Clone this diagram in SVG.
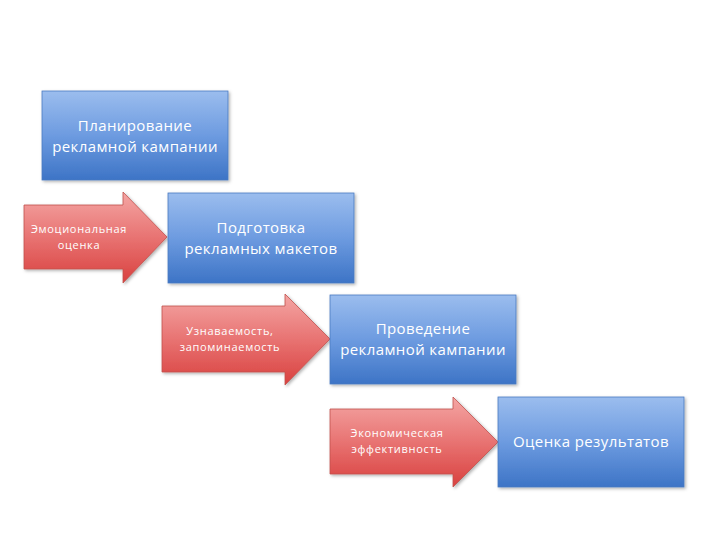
<svg xmlns="http://www.w3.org/2000/svg" width="720" height="540" viewBox="0 0 720 540">
<defs>
<linearGradient id="gb" x1="0" y1="0" x2="0" y2="1">
<stop offset="0" stop-color="#9bbdee"/>
<stop offset="0.5" stop-color="#6d9be0"/>
<stop offset="1" stop-color="#3d74c6"/>
</linearGradient>
<linearGradient id="gr" x1="0" y1="0" x2="0" y2="1">
<stop offset="0" stop-color="#f4a6a4"/>
<stop offset="0.5" stop-color="#e87372"/>
<stop offset="1" stop-color="#d9413f"/>
</linearGradient>
<filter id="sh" x="-10%" y="-10%" width="130%" height="130%">
<feDropShadow dx="1.5" dy="1.5" stdDeviation="1.5" flood-color="#000" flood-opacity="0.3"/>
</filter>
</defs>
<style>
.box{fill:url(#gb);stroke:#4a7bc0;stroke-width:0.8;filter:url(#sh)}
.arr{fill:url(#gr);stroke:#c0504d;stroke-width:0.8;filter:url(#sh)}
.bt{font-family:"Open Sans","Liberation Sans",sans-serif;font-size:15px;letter-spacing:0.4px;fill:#fff;text-anchor:middle}
.at{font-family:"Open Sans","Liberation Sans",sans-serif;font-size:11px;letter-spacing:0.7px;fill:#fff;text-anchor:middle}
</style>
<rect width="720" height="540" fill="#fff"/>
<g id="connectors">
<g id="arrow1">
<polygon class="arr" points="24,205 123,205 123,192 167,237 123,283 123,269 24,269"/>
<text class="at" x="79" y="233">Эмоциональная</text>
<text class="at" x="79" y="249">оценка</text>
</g>
<g id="arrow2">
<polygon class="arr" points="162,306 285,306 285,294 330,339 285,385 285,372 162,372"/>
<text class="at" x="230" y="335">Узнаваемость,</text>
<text class="at" x="230" y="351">запоминаемость</text>
</g>
<g id="arrow3">
<polygon class="arr" points="330,409 453,409 453,397 498,442 453,487 453,474 330,474"/>
<text class="at" x="397" y="437">Экономическая</text>
<text class="at" x="397" y="453">эффективность</text>
</g>
</g>
<g id="node1">
<rect class="box" x="42" y="91" width="186" height="89"/>
<text class="bt" x="135" y="131">Планирование</text>
<text class="bt" x="135" y="152">рекламной кампании</text>
</g>
<g id="node2">
<rect class="box" x="168" y="193" width="186" height="90"/>
<text class="bt" x="261" y="233">Подготовка</text>
<text class="bt" x="261" y="254">рекламных макетов</text>
</g>
<g id="node3">
<rect class="box" x="330" y="295" width="186" height="89"/>
<text class="bt" x="423" y="334">Проведение</text>
<text class="bt" x="423" y="355">рекламной кампании</text>
</g>
<g id="node4">
<rect class="box" x="498" y="397" width="186" height="90"/>
<text class="bt" x="591" y="447">Оценка результатов</text>
</g>
</svg>
